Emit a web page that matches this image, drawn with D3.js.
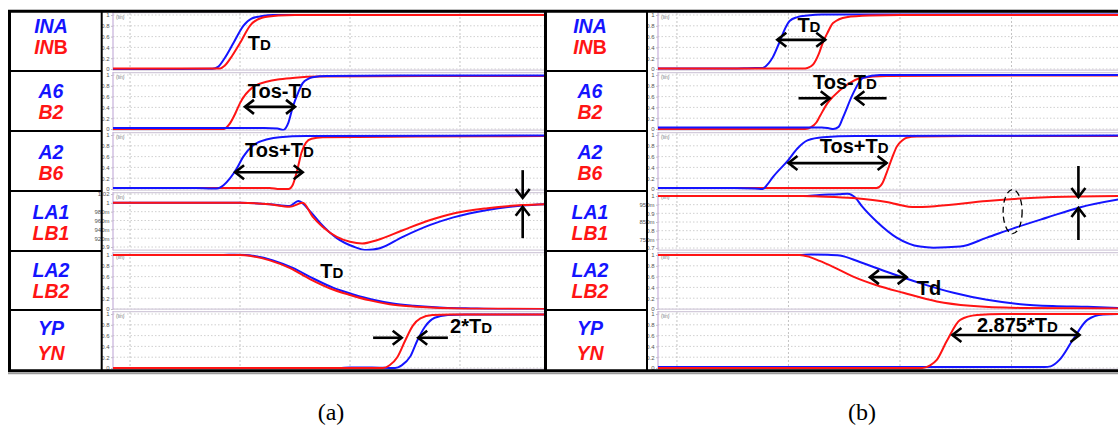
<!DOCTYPE html>
<html><head><meta charset="utf-8">
<script src="https://cdn.jsdelivr.net/npm/d3@7"></script>
<style>body{margin:0;background:#fff;}svg{display:block;}</style>
</head><body>
<svg id="c" width="1118" height="430"></svg>
<script>
// ---------------- DATA ----------------
const rowLabelTop = ["INA","A6","A2","LA1","LA2","YP"];
const rowLabelBottom = ["INB","B2","B6","LB1","LB2","YN"];
const uprightSuffix = {"INB":"B"};

const stdTicks = [0,0.2,0.4,0.6,0.8,1];
const stdTickLabels = ["0","0.2","0.4","0.6","0.8","1"];
const aLA1Ticks = [0.9,0.92,0.94,0.96,0.98,1,1.02];
const aLA1TickLabels = ["0.9","920m","940m","960m","980m","1","1.02"];
const bLA1Ticks = [0.7,0.75,0.8,0.85,0.9,0.95,1];
const bLA1TickLabels = ["0.7","750m","0.8","850m","0.9","950m","1"];
const timeGrid = [0,1,2,3];

// panel (a) waveforms: [time, value]
const aINA = [[-0.16,0],[0.45,0],[0.75,0.005],[0.8,0.04],[0.86,0.2],[0.94,0.48],[1.03,0.8],[1.1,0.93],[1.2,0.98],[1.3,1.0],[3.78,1.0]];
const aINB = [[-0.16,0.01],[0.82,0.01],[0.86,0.06],[0.93,0.25],[1.0,0.48],[1.09,0.8],[1.2,0.95],[1.35,0.99],[1.5,1.0],[3.78,1.0]];
const aA6 = [[-0.16,0.02],[1.22,0.02],[1.34,0.01],[1.39,-0.02],[1.44,0.12],[1.48,0.41],[1.53,0.68],[1.57,0.85],[1.62,0.93],[1.66,0.96],[1.79,0.98],[2.7,0.99],[3.78,0.99]];
const aB2 = [[-0.16,0],[0.85,0],[0.9,0.08],[0.96,0.3],[1.0,0.48],[1.12,0.78],[1.25,0.88],[1.36,0.92],[1.5,0.95],[1.73,0.97],[2.7,0.98],[3.78,0.98]];
const aA2 = [[-0.16,0.02],[0.6,0.02],[0.75,0.01],[0.79,0.01],[0.85,0.07],[0.91,0.2],[0.97,0.38],[1.03,0.6],[1.12,0.81],[1.25,0.92],[1.36,0.96],[1.6,0.98],[3.78,0.99]];
const aB6 = [[-0.16,0.02],[1.27,0.02],[1.36,0.0],[1.44,0.0],[1.48,0.08],[1.52,0.35],[1.56,0.68],[1.6,0.86],[1.65,0.93],[1.75,0.96],[2.6,0.97],[3.78,0.98]];
const aLA1 = [[-0.16,1.0],[1.0,1.0],[1.27,0.997],[1.45,0.993],[1.53,1.004],[1.64,0.98],[1.73,0.954],[1.88,0.92],[2.03,0.901],[2.15,0.893],[2.27,0.897],[2.48,0.923],[2.73,0.95],[2.94,0.967],[3.25,0.984],[3.57,0.994],[3.78,0.997]];
const aLB1 = [[-0.16,1.0],[1.0,1.0],[1.27,0.997],[1.45,0.991],[1.57,1.0],[1.66,0.969],[1.75,0.946],[1.88,0.923],[2.0,0.912],[2.11,0.908],[2.25,0.916],[2.48,0.938],[2.73,0.961],[2.94,0.976],[3.25,0.988],[3.57,0.995],[3.78,0.997]];
const aLA2 = [[-0.16,1.0],[0.85,1.0],[0.95,1.005],[1.05,1.0],[1.13,0.98],[1.3,0.9],[1.48,0.76],[1.67,0.56],[1.85,0.39],[2.03,0.27],[2.21,0.17],[2.39,0.1],[2.58,0.06],[2.85,0.025],[3.1,0.01],[3.35,0.0],[3.78,0.0]];
const aLB2 = [[-0.16,1.0],[1.0,1.0],[1.1,0.98],[1.27,0.9],[1.45,0.76],[1.64,0.55],[1.82,0.38],[2.0,0.26],[2.18,0.16],[2.36,0.09],[2.55,0.05],[2.82,0.02],[3.1,0.005],[3.78,0.0]];
const aYP = [[-0.16,0.0],[1.9,0.0],[2.0,0.01],[2.2,0.01],[2.41,0.0],[2.47,0.05],[2.55,0.22],[2.61,0.5],[2.68,0.76],[2.77,0.93],[2.89,0.98],[3.05,0.99],[3.78,0.99]];
const aYN = [[-0.16,0.0],[2.3,0.0],[2.36,0.05],[2.43,0.2],[2.5,0.5],[2.57,0.78],[2.64,0.92],[2.75,0.98],[2.91,0.99],[3.78,0.99]];

// panel (b) waveforms
const bINA = [[-0.17,0.01],[0.5,0.01],[0.7,0.02],[0.77,0.02],[0.82,0.1],[0.86,0.22],[0.92,0.5],[0.97,0.75],[1.01,0.89],[1.08,0.96],[1.17,0.99],[1.3,1.01],[3.96,1.01]];
const bINB = [[-0.17,0.01],[1.13,0.01],[1.17,0.02],[1.22,0.08],[1.27,0.27],[1.31,0.5],[1.35,0.67],[1.4,0.85],[1.52,0.96],[1.73,0.99],[2.0,1.0],[3.96,1.0]];
const bA6 = [[-0.17,0.03],[1.3,0.03],[1.37,0.01],[1.4,0.0],[1.45,0.04],[1.49,0.22],[1.58,0.66],[1.67,0.95],[1.82,1.0],[3.96,1.0]];
const bB2 = [[-0.17,0.0],[1.15,0.0],[1.2,0.03],[1.25,0.12],[1.28,0.23],[1.35,0.48],[1.4,0.6],[1.52,0.81],[1.64,0.94],[1.88,0.98],[3.0,0.99],[3.96,0.99]];
const bA2 = [[-0.17,0.02],[0.52,0.02],[0.7,0.01],[0.77,0.0],[0.81,0.08],[0.86,0.22],[1.0,0.54],[1.08,0.75],[1.17,0.9],[1.31,0.96],[1.6,0.98],[3.96,0.99]];
const bB6 = [[-0.17,0.02],[1.79,0.02],[1.84,0.1],[1.88,0.3],[1.93,0.58],[1.97,0.78],[2.02,0.9],[2.06,0.95],[2.15,0.97],[2.6,0.98],[3.96,0.98]];
const bLA1 = [[-0.17,1.0],[1.13,1.0],[1.28,1.006],[1.45,1.01],[1.53,1.013],[1.6,0.99],[1.66,0.94],[1.79,0.853],[1.97,0.76],[2.18,0.708],[2.3,0.702],[2.54,0.708],[2.78,0.76],[3.01,0.812],[3.32,0.876],[3.61,0.934],[3.96,0.98]];
const bLB1 = [[-0.17,1.0],[1.13,1.0],[1.28,0.997],[1.58,0.988],[1.88,0.965],[2.0,0.948],[2.11,0.936],[2.33,0.942],[2.78,0.971],[3.37,0.994],[3.96,1.0]];
const bLA2 = [[-0.17,1.0],[1.1,1.0],[1.2,1.01],[1.35,1.005],[1.46,0.99],[1.64,0.87],[1.88,0.69],[2.18,0.48],[2.48,0.3],[2.78,0.17],[3.08,0.09],[3.37,0.055],[3.68,0.04],[3.96,0.02]];
const bLB2 = [[-0.17,1.0],[1.1,1.0],[1.18,0.97],[1.28,0.89],[1.4,0.78],[1.58,0.6],[1.79,0.44],[2.03,0.3],[2.33,0.14],[2.63,0.06],[3.08,0.02],[3.96,0.01]];
const bYP = [[-0.17,0.02],[3.3,0.02],[3.35,0.03],[3.43,0.15],[3.55,0.52],[3.68,0.89],[3.82,0.99],[3.96,1.0]];
const bYN = [[-0.17,0.0],[2.2,0.0],[2.27,0.05],[2.33,0.15],[2.42,0.5],[2.54,0.89],[2.69,0.98],[2.92,1.0],[3.96,1.0]];

// annotations (data coordinates: row, time, value)
const aArrows = [
  {row:1,t0:1.045,v0:0.41,t1:1.5,v1:0.41,both:true},
  {row:2,t0:0.955,v0:0.31,t1:1.57,v1:0.31,both:true},
  {row:3,t0:3.57,v0:1.074,t1:3.57,v1:1.011,both:false},
  {row:3,t0:3.57,v0:0.92,t1:3.57,v1:0.991,both:false},
  {row:5,t0:2.21,v0:0.56,t1:2.47,v1:0.56,both:false},
  {row:5,t0:2.89,v0:0.56,t1:2.62,v1:0.56,both:false}
];
const aNotes = [
  {row:0,t:1.07,v:0.35,text:"T_D"},
  {row:1,t:1.07,v:0.57,text:"Tos-T_D"},
  {row:2,t:1.045,v:0.59,text:"Tos+T_D"},
  {row:4,t:1.73,v:0.57,text:"T_D"},
  {row:5,t:2.91,v:0.65,text:"2*T_D"}
];
const bArrows = [
  {row:0,t0:0.9,v0:0.54,t1:1.33,v1:0.54,both:true},
  {row:1,t0:1.09,v0:0.57,t1:1.37,v1:0.57,both:false},
  {row:1,t0:1.88,v0:0.57,t1:1.6,v1:0.57,both:false},
  {row:2,t0:1.0,v0:0.48,t1:1.88,v1:0.48,both:true},
  {row:3,t0:3.6,v0:1.173,t1:3.6,v1:0.994,both:false},
  {row:3,t0:3.6,v0:0.746,t1:3.6,v1:0.931,both:false},
  {row:4,t0:1.73,v0:0.59,t1:2.06,v1:0.59,both:true},
  {row:5,t0:2.47,v0:0.61,t1:3.61,v1:0.61,both:true}
];
const bNotes = [
  {row:0,t:1.08,v:0.69,text:"T_D"},
  {row:1,t:1.22,v:0.74,text:"Tos-T_D"},
  {row:2,t:1.28,v:0.67,text:"Tos+T_D"},
  {row:4,t:2.15,v:0.26,text:"Td"},
  {row:5,t:2.69,v:0.67,text:"2.875*T_D"}
];
const bEllipses = [{row:3,t:3.01,v:0.91}];

// ---------------- LAYOUT ----------------
const BLUE = "#1414ff", RED = "#ff1414";
const rowEdges = [11,71,131,191,251,310,370];
const labelBase = [[22,43],[26.5,48],[27.5,49],[27.5,48.5],[26,47],[25,50]];

const panels = [
  {labelLeft:9.5, labelRight:101.7, axisX:113, right:545, tDomain:[-0.155,3.773], labelCx:51, caption:"(a)", capX:331,
   series:[[aINA,aINB],[aA6,aB2],[aA2,aB6],[aLA1,aLB1],[aLA2,aLB2],[aYP,aYN]],
   redTop:[true,false,false,true,true,true],
   domains:[[0,1],[0,1],[0,1],[0.9,1.02],[0,1],[0,1]],
   insets:[[58,4],[58,4],[58,4],[56,3],[58,4],[58,4]],
   ticks:[stdTicks,stdTicks,stdTicks,aLA1Ticks,stdTicks,stdTicks],
   tickLabels:[stdTickLabels,stdTickLabels,stdTickLabels,aLA1TickLabels,stdTickLabels,stdTickLabels],
   arrows:aArrows, notes:aNotes, ellipses:[]},
  {labelLeft:545.5, labelRight:647, axisX:658, right:1118, tDomain:[-0.17,3.955], labelCx:590, caption:"(b)", capX:862,
   series:[[bINA,bINB],[bA6,bB2],[bA2,bB6],[bLA1,bLB1],[bLA2,bLB2],[bYP,bYN]],
   redTop:[true,false,false,true,true,true],
   domains:[[0,1],[0,1],[0,1],[0.7,1.0],[0,1],[0,1]],
   insets:[[58,4],[58,4],[58,4],[57,5],[58,4],[58,4]],
   ticks:[stdTicks,stdTicks,stdTicks,bLA1Ticks,stdTicks,stdTicks],
   tickLabels:[stdTickLabels,stdTickLabels,stdTickLabels,bLA1TickLabels,stdTickLabels,stdTickLabels],
   arrows:bArrows, notes:bNotes, ellipses:bEllipses}
];

const svg = d3.select("#c");
const defs = svg.append("defs");
const FONT = "'Liberation Sans', Arial, sans-serif";

panels.forEach((P,pi)=>{
  const g = svg.append("g");
  const x = d3.scaleLinear().domain(P.tDomain).range([P.axisX, P.right]);
  const yScales = [];
  for(let r=0;r<6;r++){
    const top = rowEdges[r], bot = rowEdges[r+1];
    const y = d3.scaleLinear().domain(P.domains[r]).range([top+P.insets[r][0], top+P.insets[r][1]]);
    yScales.push(y);
    const cid = `clip${pi}_${r}`;
    defs.append("clipPath").attr("id",cid).append("rect")
      .attr("x",P.axisX).attr("y",top+1).attr("width",P.right-P.axisX).attr("height",bot-top-1.5);
    const rg = g.append("g");
    rg.selectAll(".hg").data(P.ticks[r]).enter().append("line")
      .attr("x1",P.axisX).attr("x2",P.right).attr("y1",d=>y(d)).attr("y2",d=>y(d))
      .attr("stroke","#c4c4c4").attr("stroke-width",0.8).attr("stroke-dasharray","1.5,2");
    rg.selectAll(".vg").data(timeGrid).enter().append("line")
      .attr("x1",d=>x(d)).attr("x2",d=>x(d)).attr("y1",top+2).attr("y2",bot-1.5)
      .attr("stroke","#bdbdbd").attr("stroke-width",0.9).attr("stroke-dasharray","2,2");
    rg.append("line").attr("x1",P.axisX).attr("x2",P.right).attr("y1",top+1.6).attr("y2",top+1.6)
      .attr("stroke","#d3cbdb").attr("stroke-width",1.2);
    rg.append("line").attr("x1",P.axisX).attr("x2",P.right).attr("y1",bot-0.9).attr("y2",bot-0.9)
      .attr("stroke","#d3cbdb").attr("stroke-width",1.2);
    const ax = rg.append("g").attr("transform",`translate(${P.axisX},0)`)
      .call(d3.axisLeft(y).tickValues(P.ticks[r]).tickFormat((d,i)=>P.tickLabels[r][i]).tickSize(2).tickPadding(1.5));
    ax.select(".domain").remove();
    ax.selectAll("line").attr("stroke","#999").attr("stroke-width",0.6);
    ax.selectAll("text").attr("font-size",6).attr("fill","#555").attr("font-family",FONT);
    rg.append("line").attr("x1",P.axisX).attr("x2",P.axisX).attr("y1",top+1).attr("y2",bot-0.5)
      .attr("stroke","#c6b0da").attr("stroke-width",1.2);
    rg.append("text").attr("x",P.axisX+3).attr("y",top+7.5).text("(lin)")
      .attr("font-size",5).attr("fill","#777").attr("font-family",FONT);
    const line = d3.line().x(d=>x(d[0])).y(d=>y(d[1])).curve(d3.curveMonotoneX);
    const [blueS, redS] = P.series[r];
    const order = P.redTop[r] ? [[blueS,BLUE],[redS,RED]] : [[redS,RED],[blueS,BLUE]];
    const wg = rg.append("g").attr("clip-path",`url(#${cid})`);
    order.forEach(([s,c])=>{
      wg.append("path").datum(s).attr("d",line).attr("fill","none")
        .attr("stroke",c).attr("stroke-width",2).attr("stroke-linejoin","round");
    });
    const lab = g.append("g").attr("font-family",FONT).attr("font-weight","bold").attr("font-size",19.5)
      .attr("text-anchor","middle");
    lab.append("text").attr("x",P.labelCx).attr("y",top+labelBase[r][0]).attr("fill",BLUE)
      .attr("font-style","italic").text(rowLabelTop[r]);
    const bt = lab.append("text").attr("x",P.labelCx).attr("y",top+labelBase[r][1]).attr("fill",RED);
    const lb = rowLabelBottom[r], suf = uprightSuffix[lb];
    if(suf){
      bt.append("tspan").attr("font-style","italic").text(lb.slice(0,lb.length-suf.length));
      bt.append("tspan").text(suf);
    } else {
      bt.attr("font-style","italic").text(lb);
    }
  }
  const an = g.append("g");
  function head(tipx,tipy,dx,dy){
    const L=9, Wd=7;
    const bx=tipx-dx*L, by=tipy-dy*L;
    const px=-dy, py=dx;
    an.append("path").attr("d",`M${bx+px*Wd},${by+py*Wd}L${tipx},${tipy}L${bx-px*Wd},${by-py*Wd}`)
      .attr("fill","none").attr("stroke","#000").attr("stroke-width",2.6).attr("stroke-linejoin","miter");
  }
  P.arrows.forEach(A=>{
    const y = yScales[A.row];
    const x0=x(A.t0), y0=y(A.v0), x1=x(A.t1), y1=y(A.v1);
    an.append("line").attr("x1",x0).attr("y1",y0).attr("x2",x1).attr("y2",y1)
      .attr("stroke","#000").attr("stroke-width",2.6);
    const len=Math.hypot(x1-x0,y1-y0), dx=(x1-x0)/len, dy=(y1-y0)/len;
    head(x1,y1,dx,dy);
    if(A.both) head(x0,y0,-dx,-dy);
  });
  P.notes.forEach(N=>{
    const y = yScales[N.row];
    const t = an.append("text").attr("x",x(N.t)).attr("y",y(N.v))
      .attr("font-family",FONT).attr("font-weight","bold").attr("font-size",20).attr("fill","#000");
    const parts = N.text.split("_");
    t.append("tspan").text(parts[0]);
    if(parts.length>1) t.append("tspan").attr("font-size",15).text(parts[1]);
  });
  P.ellipses.forEach(E=>{
    const y = yScales[E.row];
    an.append("ellipse").attr("cx",x(E.t)).attr("cy",y(E.v)).attr("rx",9.5).attr("ry",22)
      .attr("fill","none").attr("stroke","#000").attr("stroke-width",1.3).attr("stroke-dasharray","6,4");
  });
  const bd = g.append("g").attr("stroke","#000");
  rowEdges.slice(1,6).forEach(e=>{
    bd.append("line").attr("x1",P.labelLeft).attr("x2",P.labelRight).attr("y1",e).attr("y2",e).attr("stroke-width",2);
  });
  bd.append("line").attr("x1",P.labelRight).attr("x2",P.labelRight).attr("y1",11).attr("y2",370).attr("stroke-width",2);
  bd.append("line").attr("x1",P.labelLeft).attr("x2",P.labelLeft).attr("y1",10).attr("y2",372).attr("stroke-width",3);
  svg.append("text").attr("x",P.capX).attr("y",420).attr("text-anchor","middle")
    .attr("font-family","'Liberation Serif','Times New Roman',serif").attr("font-size",24).attr("fill","#000")
    .text(P.caption);
});
svg.append("line").attr("x1",8).attr("x2",1118).attr("y1",11.2).attr("y2",11.2).attr("stroke","#000").attr("stroke-width",3);
svg.append("line").attr("x1",8).attr("x2",1118).attr("y1",373.4).attr("y2",373.4).attr("stroke","#9a9a9a").attr("stroke-width",1.5);
svg.append("line").attr("x1",8).attr("x2",1118).attr("y1",370.8).attr("y2",370.8).attr("stroke","#000").attr("stroke-width",3);
</script>
</body></html>
